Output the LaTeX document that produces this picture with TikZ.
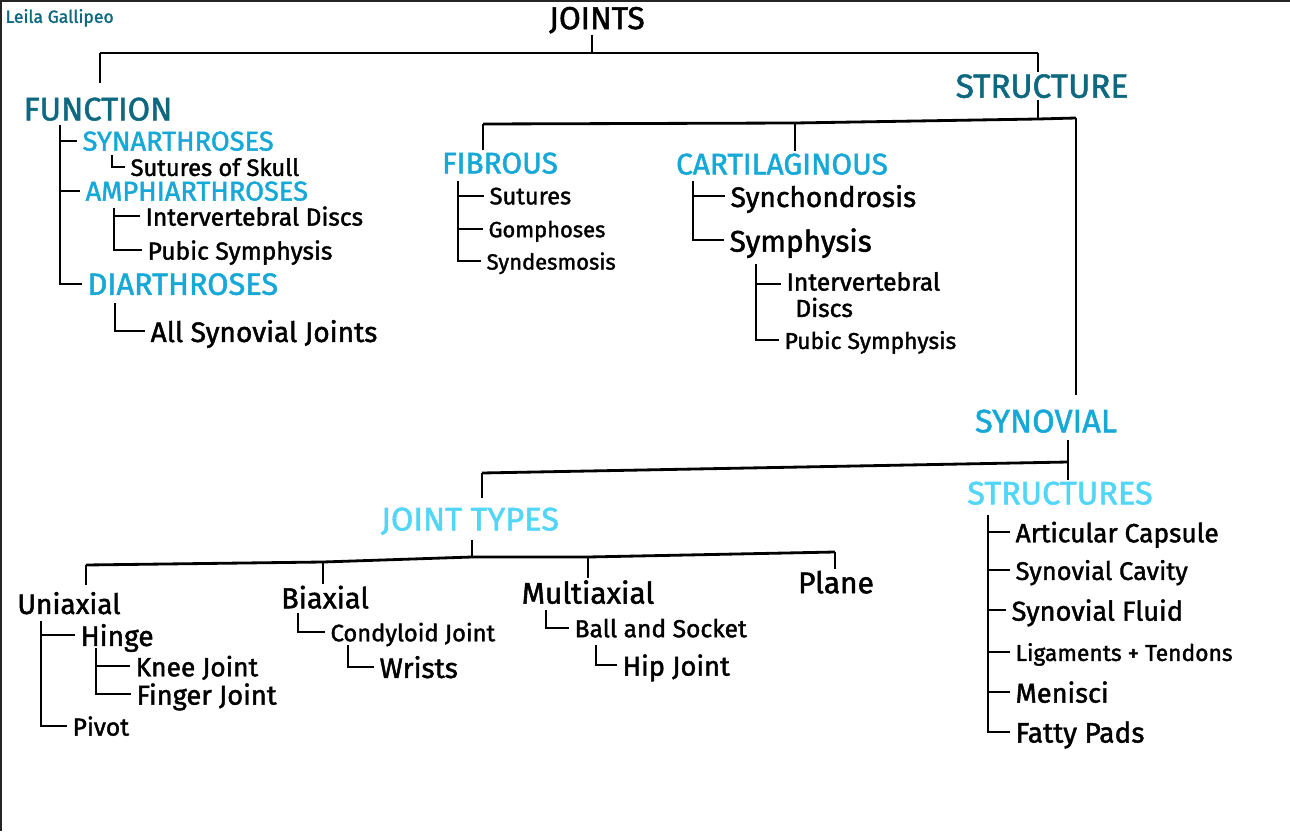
\documentclass[tikz,border=0pt]{standalone}
\usepackage{fontspec}
\setmainfont{Fira Sans}[FakeBold=1.6]
\definecolor{deepteal}{RGB}{14,104,128}
\definecolor{midcyan}{RGB}{22,168,214}
\definecolor{paleblue}{RGB}{82,214,248}
\definecolor{frame}{RGB}{37,37,37}

\begin{document}
\begin{tikzpicture}[x=0.02cm,y=-0.02cm,
  tree/.style={line width=1.6pt},
  lbl/.style={inner xsep=3pt,inner ysep=1pt,text depth=0pt,
    font=\fontsize{#1}{#1}\selectfont},
  head/.style={lbl=#1,text=deepteal},
  group/.style={lbl=#1,text=midcyan,anchor=west},
  part/.style={lbl=#1,text=paleblue},
  item/.style={lbl=#1,anchor=west}]
\fill[white] (0,0) rectangle (1290,831);
\useasboundingbox (0,0) rectangle (1290,831);
% frame
\draw[line width=1.2pt,frame] (0,1) -- (1290,1);
\draw[line width=1.2pt,frame] (1,0) -- (1,831);
\node[lbl=10,text=deepteal,anchor=west] (author) at (0,16) {Leila Gallipeo};

% Top level
\node[lbl=18] (joints) at (597,18) {JOINTS};
\node[head=18.5] (function) at (98,109) {FUNCTION};
\node[head=19] (structure) at (1042,86) {STRUCTURE};
\coordinate (jk) at (592,53);
\coordinate (jl) at (100,53);
\coordinate (jr) at (1038,53);
\draw[tree,shorten <=2pt] (joints.south -| jk) -- (jk);
\draw[tree] (jl) -- (jr);
\draw[tree,shorten >=7pt] (jl) -- (jl |- function.north);
\draw[tree] (jr) -- (jr |- structure.north);

% Function
\node[group=15.5] (synarth) at (77,141) {SYNARTHROSES};
\node[group=15.5] (amphi) at (80,191) {AMPHIARTHROSES};
\node[group=17.5] (diarth) at (82,284) {DIARTHROSES};
\coordinate (funspine) at (60,125);
\draw[tree] (funspine) |- (synarth.west);
\draw[tree] (funspine) |- (amphi.west);
\draw[tree] (funspine) |- (diarth.west);
\node[item=13.5] (skull) at (125,167) {Sutures of Skull};
\coordinate (synspine) at (112,155);
\draw[tree] (synspine) |- (skull.west);
\node[item=14] (discs) at (140,216) {Intervertebral Discs};
\node[item=14] (pubic) at (142,250) {Pubic Symphysis};
\coordinate (amphispine) at (114,208);
\draw[tree] (amphispine) |- (discs.west);
\draw[tree] (amphispine) |- (pubic.west);
\node[item=16] (allsyn) at (145,331) {All Synovial Joints};
\coordinate (diarthspine) at (115,303);
\draw[tree] (diarthspine) |- (allsyn.west);

% Structure
\node[part=17,text=midcyan] (fibrous) at (500,163) {FIBROUS};
\node[part=17,text=midcyan] (cartil) at (782,164) {CARTILAGINOUS};
\node[part=18.5,text=midcyan] (synovial) at (1046,421) {SYNOVIAL};
\coordinate (sf) at (483,124);
\coordinate (sc) at (795,123);
\coordinate (sk) at (1038,119);
\coordinate (ss) at (1076,118);
\draw[tree] (structure.south -| sk) -- (sk);
\draw[tree] (sf) -- (sc) -- (sk) -- (ss);
\draw[tree] (sf) -- (sf |- fibrous.north);
\draw[tree] (sc) -- (sc |- cartil.north);
\draw[tree,shorten >=7pt] (ss) -- (ss |- synovial.north);

% Fibrous
\node[item=13.5] (sutures) at (484,196) {Sutures};
\node[item=12.5] (gomph) at (483,229) {Gomphoses};
\node[item=12.5] (syndes) at (481,261) {Syndesmosis};
\coordinate (fibspine) at (458,181);
\draw[tree] (fibspine) |- (sutures.west);
\draw[tree] (fibspine) |- (gomph.west);
\draw[tree] (fibspine) |- (syndes.west);

% Cartilaginous
\node[item=16] (synchon) at (725,196) {Synchondrosis};
\node[item=17] (symph) at (724,240) {Symphysis};
\coordinate (cartspine) at (693,181);
\draw[tree] (cartspine) |- (synchon.west);
\draw[tree] (cartspine) |- (symph.west);
\node[lbl=14,anchor=north west,align=left,font=\fontsize{14}{15}\selectfont] (discs2) at (781,270) {Intervertebral\\\hspace{5pt}Discs};
\node[item=13] (pubic2) at (779,340) {Pubic Symphysis};
\coordinate (symspine) at (756,264);
\draw[tree] (symspine) |- ([yshift=-8pt]discs2.north west);
\draw[tree] (symspine) |- (pubic2.west);

% Synovial
\node[part=18.5] (jtypes) at (470,519) {JOINT TYPES};
\node[part=18.5] (structs) at (1060,493) {STRUCTURES};
\coordinate (yk) at (1068,462);
\coordinate (yj) at (482,473);
\draw[tree,shorten <=3pt] (synovial.south -| yk) -- (yk);
\draw[tree] (yj) -- (yk);
\draw[tree,shorten >=4pt] (yj) -- (yj |- jtypes.north);
\draw[tree] (yk) -- (yk |- structs.north);

% Joint types
\node[lbl=16] (uniax) at (69,603) {Uniaxial};
\node[lbl=16.5] (biax) at (325,597) {Biaxial};
\node[lbl=17] (multiax) at (588,592) {Multiaxial};
\node[lbl=17] (plane) at (836,582) {Plane};
\coordinate (tu) at (86,565);
\coordinate (tb) at (323,562);
\coordinate (tk) at (472,557);
\coordinate (tm) at (588,557);
\coordinate (tp) at (835,552);
\draw[tree,shorten <=4pt] (jtypes.south -| tk) -- (tk);
\draw[tree] (tu) -- (tb) -- (tk) -- (tm) -- (tp);
\draw[tree,shorten >=3pt] (tu) -- (tu |- uniax.north);
\draw[tree] (tb) -- (tb |- biax.north);
\draw[tree] (tm) -- (tm |- multiax.north);
\draw[tree] (tp) -- (tp |- plane.north);

% Uniaxial
\node[item=16] (hinge) at (75,635) {Hinge};
\node[item=14] (pivot) at (67,726) {Pivot};
\coordinate (unispine) at (41,621);
\draw[tree] (unispine) |- (hinge.west);
\draw[tree] (unispine) |- (pivot.west);
\node[item=15] (knee) at (130,666) {Knee Joint};
\node[item=15.5] (finger) at (131,694) {Finger Joint};
\coordinate (hingespine) at (96,648);
\draw[tree] (hingespine) |- (knee.west);
\draw[tree] (hingespine) |- (finger.west);

% Biaxial
\node[item=13.5] (condyl) at (325,632) {Condyloid Joint};
\coordinate (biaxspine) at (298,613);
\draw[tree] (biaxspine) |- (condyl.west);
\node[item=16] (wrists) at (374,667) {Wrists};
\coordinate (condylspine) at (348,645);
\draw[tree] (condylspine) |- (wrists.west);

% Multiaxial
\node[item=14] (ball) at (569,628) {Ball and Socket};
\coordinate (multispine) at (546,610);
\draw[tree] (multispine) |- (ball.west);
\node[item=15.5] (hip) at (617,665) {Hip Joint};
\coordinate (ballspine) at (596,645);
\draw[tree] (ballspine) |- (hip.west);

% Synovial structures
\node[item=15] (capsule) at (1010,532) {Articular Capsule};
\node[item=14.5] (cavity) at (1010,570) {Synovial Cavity};
\node[item=15.5] (fluid) at (1006,610) {Synovial Fluid};
\node[item=13] (ligam) at (1010,652) {Ligaments + Tendons};
\node[item=15.5] (menisci) at (1010,692) {Menisci};
\node[item=16] (fatty) at (1010,732) {Fatty Pads};
\coordinate (structspine) at (988,515);
\foreach \n in {capsule,cavity,fluid,ligam,menisci,fatty}
  \draw[tree] (structspine) |- (\n.west);
\end{tikzpicture}
\end{document}
